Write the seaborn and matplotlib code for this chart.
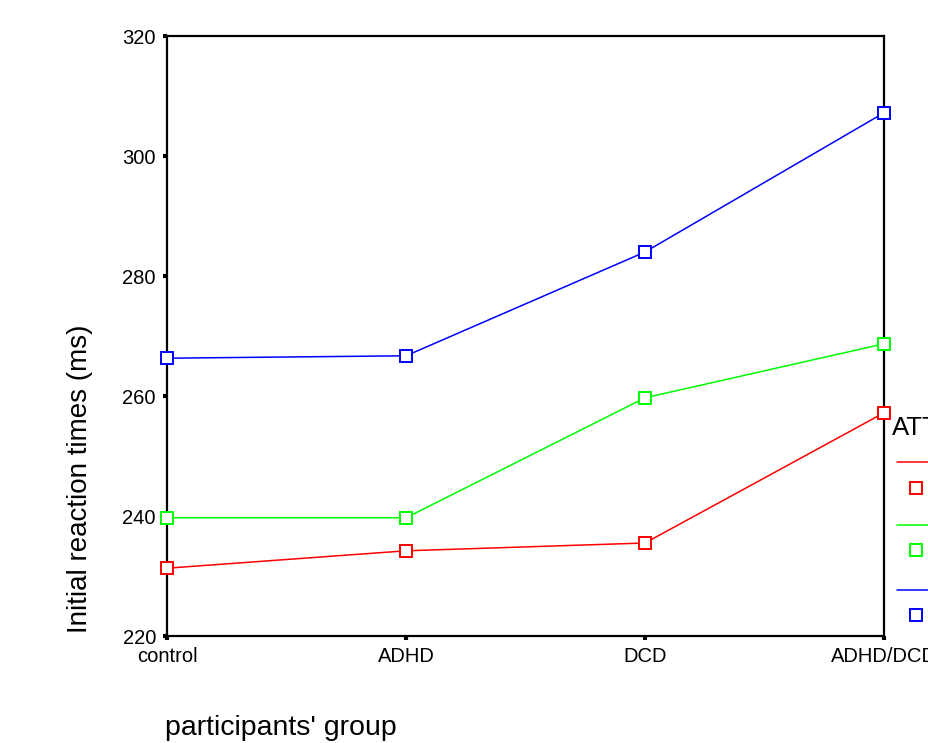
import matplotlib
matplotlib.use("Agg")
import matplotlib.pyplot as plt
from matplotlib.lines import Line2D
import seaborn as sns
import pandas as pd

groups = ["control", "ADHD", "DCD", "ADHD/DCD"]
at_levels = ["1", "2", "3"]
rt_level1 = [231.3, 234.2, 235.5, 257.2]
rt_level2 = [239.7, 239.7, 259.7, 268.7]
rt_level3 = [266.3, 266.7, 284.0, 307.2]
colors = ["#ff0000", "#00ff00", "#0000ff"]
y_ticks = [220, 240, 260, 280, 300, 320]

rows = []
for lvl, vals in zip(at_levels, [rt_level1, rt_level2, rt_level3]):
    for g, v in zip(groups, vals):
        rows.append({"group": g, "rt": v, "AT": lvl})
df = pd.DataFrame(rows)

sns.set_style("white")
plt.rcParams["font.family"] = ["Liberation Sans", "DejaVu Sans"]
plt.rcParams["text.color"] = "black"
plt.rcParams["axes.labelcolor"] = "black"
plt.rcParams["xtick.color"] = "black"
plt.rcParams["ytick.color"] = "black"

fig = plt.figure(figsize=(9.29, 7.43), dpi=100)
ax = fig.add_axes([167/929, 107/743, 717/929, 600/743])

sns.lineplot(data=df, x="group", y="rt", hue="AT", palette=colors,
             marker="s", markersize=8.5, markerfacecolor="white",
             markeredgewidth=1.4, linewidth=1.1, legend=False, ax=ax,
             clip_on=False, zorder=5)
for ln in ax.lines:
    ln.set_markeredgecolor(ln.get_color())

ax.set_xlim(0, 3)
ax.set_ylim(220, 320)
ax.set_yticks(y_ticks)
ax.set_xticks(range(len(groups)))
ax.set_xticklabels(groups)
for s in ax.spines.values():
    s.set_visible(True)
    s.set_color("black")
    s.set_linewidth(1.6)
ax.tick_params(axis="both", which="major", direction="out", length=3,
               width=3, color="black", labelcolor="black", labelsize=14.5,
               pad=5, left=True, bottom=True)

ax.set_ylabel("Initial reaction times (ms)", fontsize=20, va="center", color="black")
ax.set_xlabel("participants' group", fontsize=20.5, ha="left", va="center", color="black")
ax.yaxis.set_label_coords(-0.121, 0.262)
ax.xaxis.set_label_coords(-0.003, -0.153)

# legend (SPSS style, partially cut at the right edge)
fig.text(892/929, 1 - 428/743, "ATTENTION", fontsize=18.5, ha="left",
         va="center", color="black")
legend_y = [(462, 488), (525, 550), (590, 615)]
for c, lvl, (yl, ym) in zip(colors, at_levels, legend_y):
    fig.add_artist(Line2D([897/929, 1.0], [1 - yl/743, 1 - yl/743],
                          transform=fig.transFigure, color=c, linewidth=1.1))
    fig.add_artist(Line2D([916/929], [1 - ym/743], transform=fig.transFigure,
                          color=c, marker="s", markersize=8.5,
                          markerfacecolor="white", markeredgecolor=c,
                          markeredgewidth=1.4, linestyle="none"))

fig.savefig("out.png", dpi=100)
